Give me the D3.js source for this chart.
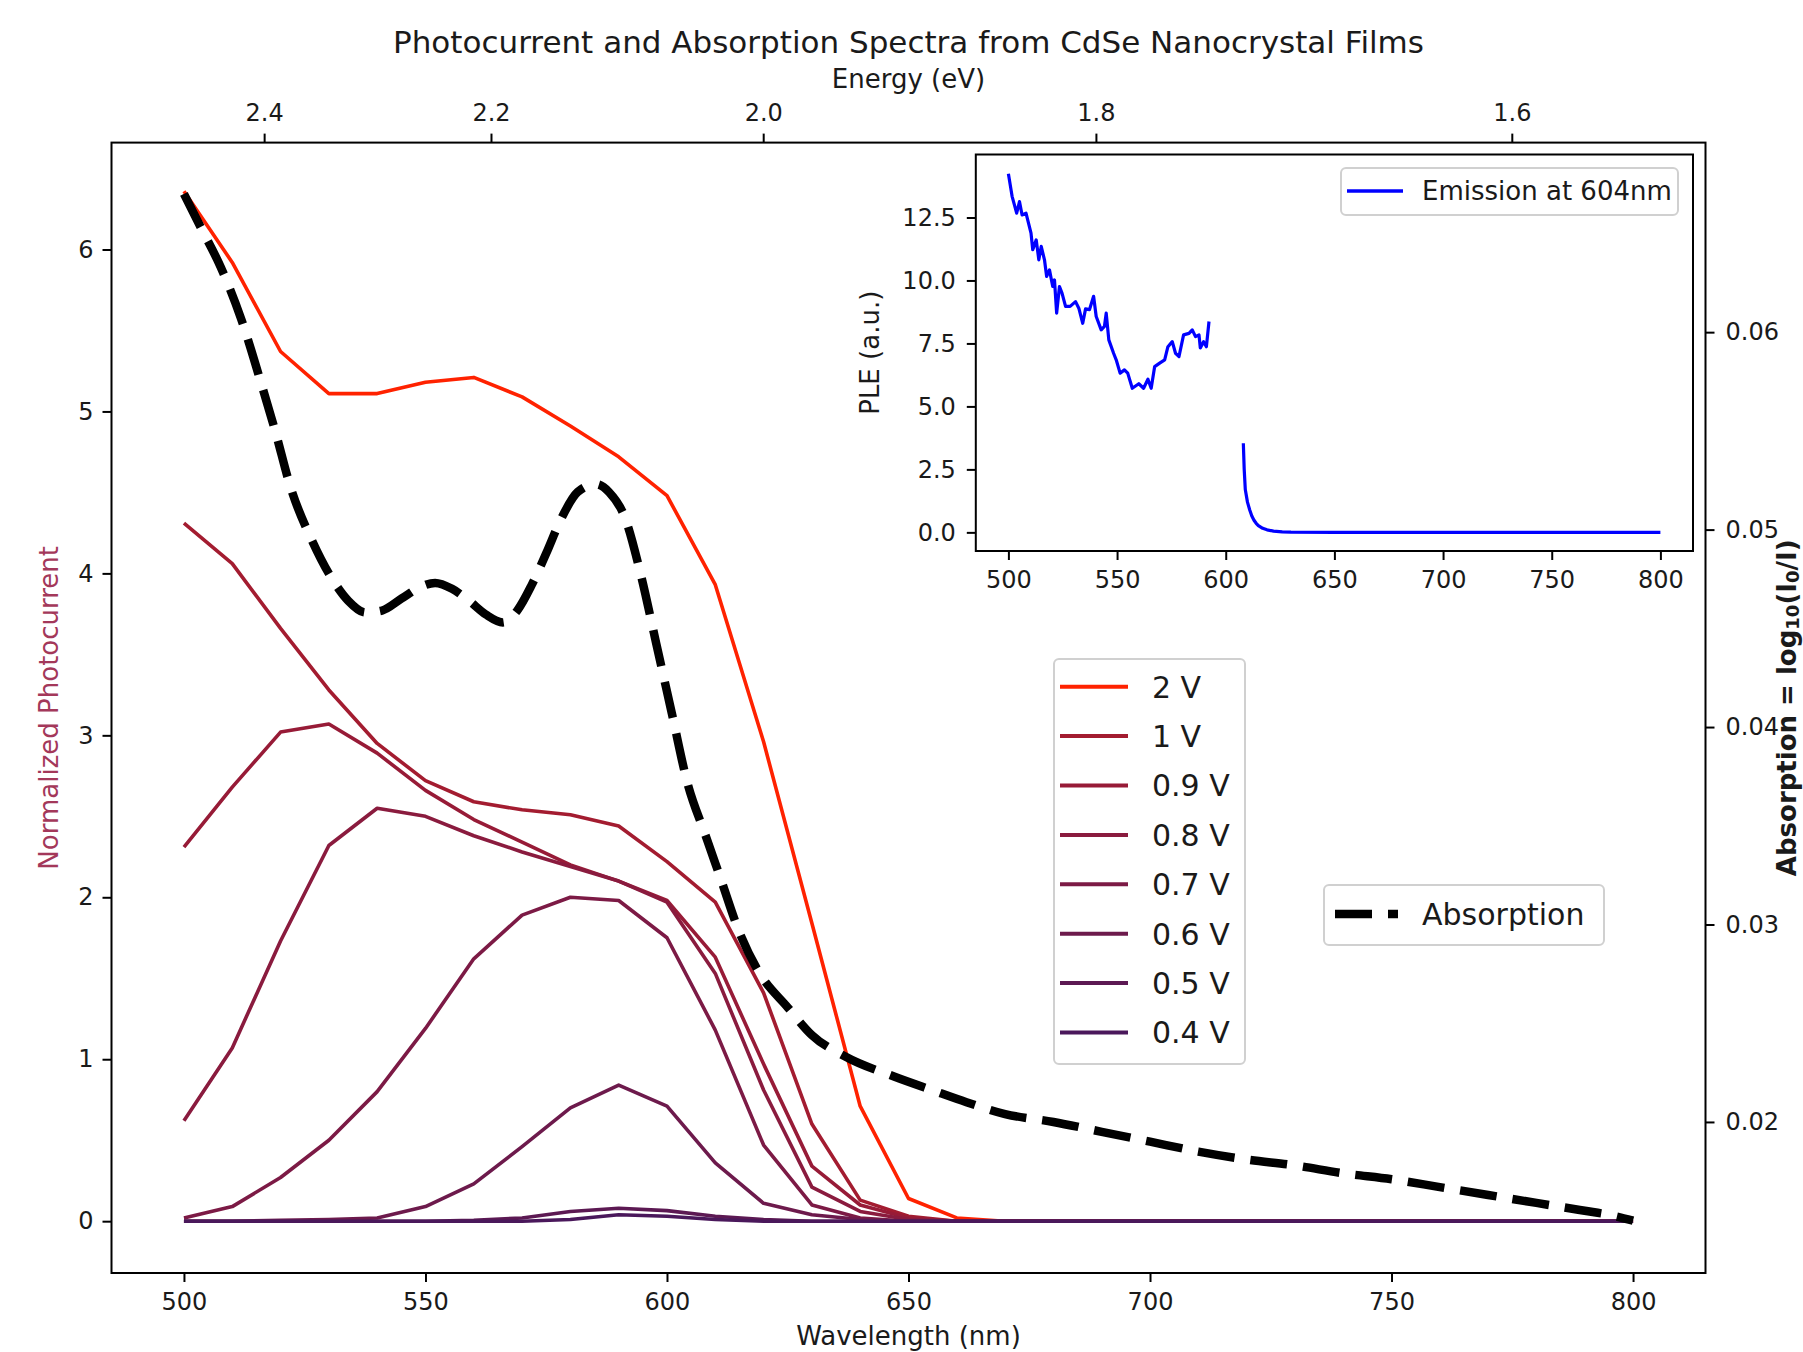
<!DOCTYPE html>
<html>
<head>
<meta charset="utf-8">
<title>Photocurrent and Absorption Spectra</title>
<script src="https://cdn.jsdelivr.net/npm/d3@7"></script>
<style>
body{ margin:0; background:#fff; }
svg text{ font-family:"DejaVu Sans", sans-serif; }
</style>
</head>
<body>
<script>
// photocurrent, sampled every 10 nm from 500 to 800 nm
var wavelengths = d3.range(500, 801, 10);
var biasLabels = ["2 V", "1 V", "0.9 V", "0.8 V", "0.7 V", "0.6 V", "0.5 V", "0.4 V"];
var biasColors = ["#ff2200", "#a31c30", "#971b37", "#8a1b3e", "#7c1a45", "#6d1a4c", "#5c1953", "#4a185b"];

var pc2V  = [6.36, 5.92, 5.37, 5.11, 5.11, 5.18, 5.21, 5.09, 4.91, 4.72, 4.48, 3.93, 2.96, 1.84, 0.71, 0.14, 0.02, 0, 0, 0, 0, 0, 0, 0, 0, 0, 0, 0, 0, 0, 0];
var pc1V  = [4.31, 4.06, 3.66, 3.28, 2.95, 2.72, 2.59, 2.54, 2.51, 2.44, 2.22, 1.97, 1.41, 0.60, 0.13, 0.03, 0, 0, 0, 0, 0, 0, 0, 0, 0, 0, 0, 0, 0, 0, 0];
var pc09V = [2.31, 2.68, 3.02, 3.07, 2.89, 2.66, 2.48, 2.34, 2.20, 2.10, 1.98, 1.63, 0.97, 0.34, 0.10, 0.02, 0, 0, 0, 0, 0, 0, 0, 0, 0, 0, 0, 0, 0, 0, 0];
var pc08V = [0.62, 1.07, 1.73, 2.32, 2.55, 2.50, 2.38, 2.28, 2.19, 2.10, 1.97, 1.53, 0.81, 0.21, 0.06, 0.01, 0, 0, 0, 0, 0, 0, 0, 0, 0, 0, 0, 0, 0, 0, 0];
var pc07V = [0.02, 0.09, 0.27, 0.50, 0.80, 1.19, 1.62, 1.89, 2.00, 1.98, 1.75, 1.18, 0.47, 0.10, 0.02, 0, 0, 0, 0, 0, 0, 0, 0, 0, 0, 0, 0, 0, 0, 0, 0];
var pc06V = [0, 0, 0.005, 0.01, 0.02, 0.09, 0.23, 0.46, 0.70, 0.84, 0.71, 0.36, 0.11, 0.04, 0.01, 0, 0, 0, 0, 0, 0, 0, 0, 0, 0, 0, 0, 0, 0, 0, 0];
var pc05V = [0, 0, 0, 0, 0, 0, 0.005, 0.02, 0.06, 0.08, 0.065, 0.03, 0.01, 0, 0, 0, 0, 0, 0, 0, 0, 0, 0, 0, 0, 0, 0, 0, 0, 0, 0];
var pc04V = [0, 0, 0, 0, 0, 0, 0, 0, 0.01, 0.04, 0.03, 0.01, 0, 0, 0, 0, 0, 0, 0, 0, 0, 0, 0, 0, 0, 0, 0, 0, 0, 0, 0];
var photocurrent = [pc2V, pc1V, pc09V, pc08V, pc07V, pc06V, pc05V, pc04V];

// absorption (right axis)
var absWl  = [500, 503.5, 507.6, 511.8, 516, 519, 522, 526.6, 531.2, 534, 537.6, 541, 545, 549, 552, 555.5, 559, 562.5, 566, 569, 572, 575, 578, 581.5, 585.3, 588, 591.3, 594.5, 597.8, 601, 604.2, 608, 611, 615, 619, 625, 630, 637, 647, 655, 662, 670, 680, 690, 700, 710, 720, 730, 740, 750, 760, 770, 780, 790, 795, 800];
var absVal = [0.0670, 0.0653, 0.0633, 0.0607, 0.0574, 0.0549, 0.0522, 0.0494, 0.0473, 0.0464, 0.0458, 0.0459, 0.0465, 0.0471, 0.0473, 0.0470, 0.0464, 0.0457, 0.0453, 0.0459, 0.0472, 0.0488, 0.0505, 0.0519, 0.0523, 0.0519, 0.0506, 0.0478, 0.0442, 0.0407, 0.0372, 0.0345, 0.0324, 0.0296, 0.0276, 0.0258, 0.0244, 0.0233, 0.0223, 0.0216, 0.0210, 0.0204, 0.0200, 0.0195, 0.0190, 0.0185, 0.0181, 0.0178, 0.0174, 0.0171, 0.0167, 0.0163, 0.0159, 0.0155, 0.0153, 0.0150];

// PLE inset, emission at 604nm (two pieces, gap around the emission line)
var pleWlA  = [500, 501.7, 503.8, 505.1, 506.3, 508.1, 510.4, 511.2, 512.8, 514, 515.1, 516.6, 517.6, 518.9, 520.4, 521.2, 522.2, 523.5, 524.7, 526.3, 528.4, 530.9, 532.4, 534.2, 535.5, 537.3, 539.2, 540.4, 542.7, 544.2, 545, 546.2, 548.4, 549.6, 551.4, 553.4, 554.9, 557, 560, 562.2, 564.2, 565.7, 567.3, 569.6, 571.9, 573.4, 575.4, 576.9, 578.5, 580.6, 583.1, 584.6, 586.1, 587.7, 588.3, 589.8, 591.1, 592.3];
var pleValA = [14.24, 13.34, 12.67, 13.13, 12.6, 12.67, 11.88, 11.22, 11.61, 10.82, 11.35, 10.82, 10.16, 10.42, 9.76, 10.02, 8.7, 9.76, 9.49, 8.97, 8.97, 9.16, 8.9, 8.3, 8.87, 8.84, 9.37, 8.57, 8.04, 8.18, 8.7, 7.64, 7.11, 6.85, 6.32, 6.45, 6.32, 5.72, 5.9, 5.72, 6.08, 5.72, 6.58, 6.72, 6.85, 7.37, 7.57, 7.11, 6.98, 7.84, 7.9, 8.04, 7.77, 7.84, 7.32, 7.57, 7.37, 8.37];
var pleWlB  = [608.1, 608.5, 609, 610, 611, 612, 613, 614, 615, 617, 619, 622, 626, 630, 650, 700, 750, 800];
var pleValB = [3.54, 2.5, 1.7, 1.2, 0.9, 0.65, 0.48, 0.36, 0.27, 0.16, 0.10, 0.05, 0.02, 0.01, 0, 0, 0, 0];

var energyTicks = [2.4, 2.2, 2.0, 1.8, 1.6];
var nmTicks = [500, 550, 600, 650, 700, 750, 800];
var pcTicks = [0, 1, 2, 3, 4, 5, 6];
var absTicks = [0.02, 0.03, 0.04, 0.05, 0.06];
var pleTicks = [0, 2.5, 5, 7.5, 10, 12.5];

var width = 1803, height = 1352;
var textColor = "#1a1a1a";

var svg = d3.select("body").append("svg")
    .attr("width", width)
    .attr("height", height);

var box = {left: 111.5, right: 1705.5, top: 142.6, bottom: 1273};

var x = d3.scaleLinear().domain([485, 815]).range([box.left, box.right]);
var y = d3.scaleLinear().domain([-0.32, 6.66]).range([box.bottom, box.top]);
var yAbs = d3.scaleLinear().domain([0.01235, 0.0696]).range([box.bottom, box.top]);

svg.append("clipPath").attr("id", "mainClip")
  .append("rect")
    .attr("x", box.left).attr("y", box.top)
    .attr("width", box.right - box.left).attr("height", box.bottom - box.top);

function styleAxis(g, size){
    g.attr("font-family", "DejaVu Sans, sans-serif").attr("font-size", size);
    g.select(".domain").remove();
    g.selectAll(".tick line").attr("stroke", "#000").attr("stroke-width", 2);
    g.selectAll(".tick text").attr("fill", textColor);
}

// photocurrent lines
var pcLine = d3.line()
    .x(function(d, i){ return x(wavelengths[i]); })
    .y(function(d){ return y(d); });

var lines = svg.append("g").attr("clip-path", "url(#mainClip)");
photocurrent.forEach(function(series, k){
    lines.append("path")
        .attr("d", pcLine(series))
        .attr("fill", "none")
        .attr("stroke", biasColors[k])
        .attr("stroke-width", 3.6)
        .attr("stroke-linejoin", "round");
});

// absorption on the twin axis
var absLine = d3.line()
    .x(function(d, i){ return x(absWl[i]); })
    .y(function(d){ return yAbs(d); })
    .curve(d3.curveMonotoneX);

lines.append("path")
    .attr("d", absLine(absVal))
    .attr("fill", "none")
    .attr("stroke", "#000")
    .attr("stroke-width", 8.5)
    .attr("stroke-dasharray", "37,16");

// frame
svg.append("rect")
    .attr("x", box.left).attr("y", box.top)
    .attr("width", box.right - box.left).attr("height", box.bottom - box.top)
    .attr("fill", "none").attr("stroke", "#000").attr("stroke-width", 2);

// axes
svg.append("g").attr("transform", "translate(0," + box.bottom + ")")
    .call(d3.axisBottom(x).tickValues(nmTicks).tickSize(9).tickPadding(11).tickSizeOuter(0))
    .call(styleAxis, 24);

svg.append("g").attr("transform", "translate(" + box.left + ",0)")
    .call(d3.axisLeft(y).tickValues(pcTicks).tickSize(9).tickPadding(9).tickFormat(d3.format("d")))
    .call(styleAxis, 24);

svg.append("g").attr("transform", "translate(" + box.right + ",0)")
    .call(d3.axisRight(yAbs).tickValues(absTicks).tickSize(9).tickPadding(11).tickFormat(d3.format(".2f")))
    .call(styleAxis, 24);

svg.append("g").attr("transform", "translate(0," + box.top + ")")
    .call(d3.axisTop(x)
        .tickValues(energyTicks.map(function(e){ return 1239.84 / e; }))
        .tickFormat(function(d, i){ return energyTicks[i].toFixed(1); })
        .tickSize(9).tickPadding(13))
    .call(styleAxis, 24);

// titles and axis labels
svg.append("text")
    .attr("x", (box.left + box.right) / 2).attr("y", 53)
    .attr("text-anchor", "middle").attr("font-size", 31).attr("fill", textColor)
    .text("Photocurrent and Absorption Spectra from CdSe Nanocrystal Films");

svg.append("text")
    .attr("x", (box.left + box.right) / 2).attr("y", 88)
    .attr("text-anchor", "middle").attr("font-size", 26).attr("fill", textColor)
    .text("Energy (eV)");

svg.append("text")
    .attr("x", (box.left + box.right) / 2).attr("y", 1345)
    .attr("text-anchor", "middle").attr("font-size", 26).attr("fill", textColor)
    .text("Wavelength (nm)");

svg.append("text")
    .attr("transform", "translate(58," + (box.top + box.bottom) / 2 + ") rotate(-90)")
    .attr("text-anchor", "middle").attr("font-size", 26).attr("fill", "#a3385a")
    .text("Normalized Photocurrent");

var absLabel = svg.append("text")
    .attr("transform", "translate(1796," + (box.top + box.bottom) / 2 + ") rotate(-90)")
    .attr("text-anchor", "middle").attr("font-size", 26).attr("font-weight", "bold").attr("fill", textColor);
absLabel.append("tspan").text("Absorption = log");
absLabel.append("tspan").attr("font-size", 18).attr("dy", 3).text("10");
absLabel.append("tspan").attr("dy", -3).text("(I");
absLabel.append("tspan").attr("font-size", 18).attr("dy", 3).text("0");
absLabel.append("tspan").attr("dy", -3).text("/I)");

// legend for the bias voltages
var leg = svg.append("g");
leg.append("rect")
    .attr("x", 1054).attr("y", 659).attr("width", 191).attr("height", 405).attr("rx", 5)
    .attr("fill", "#fff").attr("fill-opacity", 0.8).attr("stroke", "#d0d0d0").attr("stroke-width", 2);
biasLabels.forEach(function(label, k){
    var ly = 686.7 + k * 49.4;
    leg.append("line")
        .attr("x1", 1060).attr("x2", 1128).attr("y1", ly).attr("y2", ly)
        .attr("stroke", biasColors[k]).attr("stroke-width", 4);
    leg.append("text")
        .attr("x", 1152).attr("y", ly).attr("dy", "0.36em")
        .attr("font-size", 30).attr("fill", textColor)
        .text(label);
});

// legend for absorption
var legAbs = svg.append("g");
legAbs.append("rect")
    .attr("x", 1324).attr("y", 885).attr("width", 280).attr("height", 60).attr("rx", 5)
    .attr("fill", "#fff").attr("fill-opacity", 0.8).attr("stroke", "#d0d0d0").attr("stroke-width", 2);
legAbs.append("line")
    .attr("x1", 1335).attr("x2", 1398).attr("y1", 914).attr("y2", 914)
    .attr("stroke", "#000").attr("stroke-width", 8.5).attr("stroke-dasharray", "37,16");
legAbs.append("text")
    .attr("x", 1422).attr("y", 914).attr("dy", "0.36em")
    .attr("font-size", 30).attr("fill", textColor)
    .text("Absorption");

// inset: PLE
var ib = {left: 975.8, right: 1693, top: 154.5, bottom: 551};
var xi = d3.scaleLinear().domain([485, 815]).range([ib.left, ib.right]);
var yi = d3.scaleLinear().domain([-0.74, 15.0]).range([ib.bottom, ib.top]);

svg.append("clipPath").attr("id", "insetClip")
  .append("rect")
    .attr("x", ib.left).attr("y", ib.top)
    .attr("width", ib.right - ib.left).attr("height", ib.bottom - ib.top);

svg.append("rect")
    .attr("x", ib.left).attr("y", ib.top)
    .attr("width", ib.right - ib.left).attr("height", ib.bottom - ib.top)
    .attr("fill", "#fff");

var pleLine = d3.line()
    .x(function(d){ return xi(d[0]); })
    .y(function(d){ return yi(d[1]); });

var inset = svg.append("g").attr("clip-path", "url(#insetClip)");
[[pleWlA, pleValA], [pleWlB, pleValB]].forEach(function(part){
    inset.append("path")
        .attr("d", pleLine(d3.zip(part[0], part[1])))
        .attr("fill", "none")
        .attr("stroke", "#0000ff")
        .attr("stroke-width", 3.2)
        .attr("stroke-linejoin", "round");
});

svg.append("rect")
    .attr("x", ib.left).attr("y", ib.top)
    .attr("width", ib.right - ib.left).attr("height", ib.bottom - ib.top)
    .attr("fill", "none").attr("stroke", "#000").attr("stroke-width", 2);

svg.append("g").attr("transform", "translate(0," + ib.bottom + ")")
    .call(d3.axisBottom(xi).tickValues(nmTicks).tickSize(9).tickPadding(11))
    .call(styleAxis, 24);

svg.append("g").attr("transform", "translate(" + ib.left + ",0)")
    .call(d3.axisLeft(yi).tickValues(pleTicks).tickSize(9).tickPadding(11).tickFormat(d3.format(".1f")))
    .call(styleAxis, 24);

svg.append("text")
    .attr("transform", "translate(879," + (ib.top + ib.bottom) / 2 + ") rotate(-90)")
    .attr("text-anchor", "middle").attr("font-size", 26).attr("fill", textColor)
    .text("PLE (a.u.)");

var legPle = svg.append("g");
legPle.append("rect")
    .attr("x", 1341).attr("y", 168).attr("width", 337).attr("height", 47).attr("rx", 5)
    .attr("fill", "#fff").attr("fill-opacity", 0.8).attr("stroke", "#d0d0d0").attr("stroke-width", 2);
legPle.append("line")
    .attr("x1", 1347).attr("x2", 1403).attr("y1", 191).attr("y2", 191)
    .attr("stroke", "#0000ff").attr("stroke-width", 3.5);
legPle.append("text")
    .attr("x", 1422).attr("y", 191).attr("dy", "0.36em")
    .attr("font-size", 26).attr("fill", textColor)
    .text("Emission at 604nm");
</script>
</body>
</html>
